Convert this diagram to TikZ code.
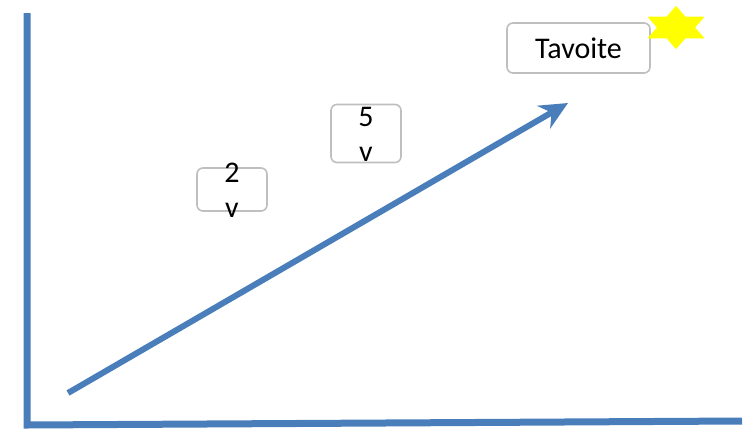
\documentclass[tikz,border=0pt]{standalone}
\usepackage{fontspec}
\setmainfont{Carlito}
\usetikzlibrary{arrows.meta}
\definecolor{AxisBlue}{RGB}{74,126,187}
\definecolor{BoxGray}{RGB}{191,191,191}
\definecolor{StarYellow}{RGB}{255,255,0}
\tikzset{
  axis/.style={draw=AxisBlue,line width=7pt},
  trend/.style={draw=AxisBlue,line width=6pt,-{Stealth[length=28pt,width=26pt,inset=9pt]}},
  box/.style={draw=BoxGray,line width=1.6pt,rounded corners=6pt,fill=white,inner sep=0pt},
  txt/.style={font=\fontsize{30}{35}\selectfont,align=center,inner sep=0pt},
}

\begin{document}
\begin{tikzpicture}[x=1pt,y=-1pt]
\useasboundingbox (0,0) rectangle (750,429);
\coordinate (top) at (27,13);
\coordinate (org) at (27,425);
\coordinate (xend) at (742,421);
\coordinate (start) at (68,393);
\coordinate (goal) at (568,103);
\draw[axis] (top)--(org)--(xend);
\draw[trend] (start)--(goal);
\node[box,minimum width=70pt,minimum height=43pt] (b2) at (232,189.5) {};
\node[txt] at ([yshift=-1pt]b2.center) {2\\v};
\node[box,minimum width=70pt,minimum height=58pt] (b5) at (366,133.5) {};
\node[txt] at ([yshift=-1pt]b5.center) {5\\v};
\node[box,minimum width=143pt,minimum height=50pt] (goalbox) at (578.5,48) {};
\node[txt] at (goalbox) {Tavoite};
% star
\filldraw[StarYellow,line width=1.5pt,line join=round,shift={(676,27.5)},xscale=1.53]
  (90:20.5) \foreach \a in {120,150,...,420}{ -- ({\a}:{ifthenelse(mod(\a,60)==30,20.5,11.8)}) } -- cycle;
\end{tikzpicture}
\end{document}
